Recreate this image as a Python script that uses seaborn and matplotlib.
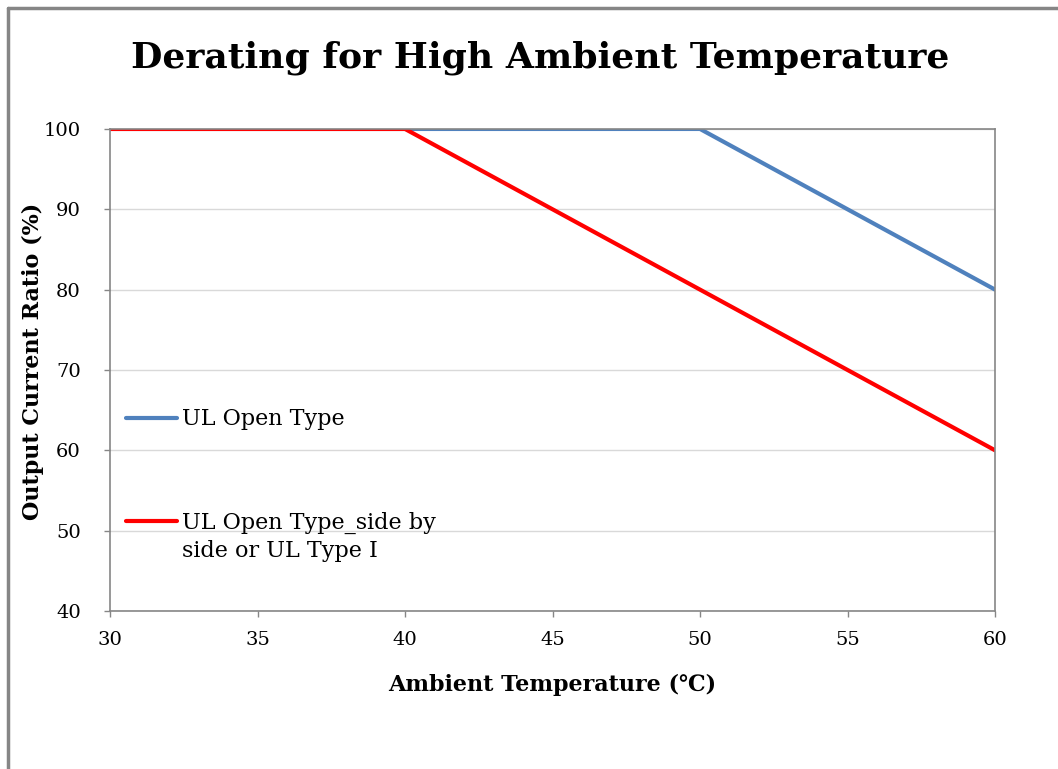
import matplotlib
matplotlib.use('Agg')
import matplotlib.pyplot as plt
from matplotlib.lines import Line2D
import seaborn as sns
import pandas as pd

# data
temps = [30, 40, 50, 60]
ul_open = [100, 100, 100, 80]
ul_side = [100, 100, 80, 60]
series_names = ['UL Open Type', 'UL Open Type_side by side or UL Type I']
legend_lines = [['UL Open Type'], ['UL Open Type_side by', 'side or UL Type I']]
x_ticks = [30, 35, 40, 45, 50, 55, 60]
y_ticks = [40, 50, 60, 70, 80, 90, 100]

sns.set_style('white')
plt.rcParams['font.family'] = ['DejaVu Serif', 'DejaVu Sans']
plt.rcParams['text.color'] = 'black'
plt.rcParams['axes.labelcolor'] = 'black'

df = pd.DataFrame({
    'temp': temps * 2,
    'ratio': ul_open + ul_side,
    'series': [series_names[0]] * len(temps) + [series_names[1]] * len(temps),
})

fig = plt.figure(figsize=(10.58, 7.69), dpi=100)
ax = fig.add_axes([0.104, 0.2055, 0.8365, 0.6268])

sns.lineplot(data=df, x='temp', y='ratio', hue='series', hue_order=series_names,
             palette=['#4F81BD', '#FF0000'], linewidth=3, ax=ax)

ax.set_xlim(30, 60)
ax.set_ylim(40, 100)
ax.set_xticks(x_ticks)
ax.set_yticks(y_ticks)
ax.yaxis.grid(True, color='#D9D9D9', linewidth=1)
ax.xaxis.grid(False)
for sp in ax.spines.values():
    sp.set_color('#868686')
    sp.set_linewidth(1.2)
ax.tick_params(axis='both', direction='out', length=4.5, width=1, color='#868686',
               labelsize=14, labelcolor='black', bottom=True, left=True)
ax.tick_params(axis='y', pad=16.5)
ax.tick_params(axis='x', pad=10)

ax.set_xlabel('Ambient Temperature (℃)', fontsize=16, fontweight='bold', va='center')
ax.set_ylabel('Output Current Ratio (%)', fontsize=16, fontweight='bold', va='center')
ax.xaxis.set_label_coords(0.4994, -0.1535)
ax.yaxis.set_label_coords(-0.087, 0.517)
fig.text(0.511, 0.925, 'Derating for High Ambient Temperature', ha='center', va='center',
         fontsize=26, fontweight='heavy')

# legend: handle aligned with first line of each label, as in the reference
handles, _ = ax.get_legend_handles_labels()
leg = ax.legend(handles, [l[0] for l in legend_lines], loc='upper left',
                bbox_to_anchor=(-0.005, 0.462), frameon=False, fontsize=16,
                handlelength=2.3, handletextpad=0.25, labelspacing=3.65)

fig.canvas.draw()
t2 = leg.get_texts()[1]
bb = t2.get_window_extent().transformed(fig.transFigure.inverted())
fig.text(bb.x0, bb.y0 - 0.009, legend_lines[1][1], ha='left', va='top', fontsize=16)

# outer border (top and left only, as cropped in reference)
fig.add_artist(Line2D([0.0075, 0.0075], [0.0, 0.9895], color='#868686', linewidth=2.5,
                      transform=fig.transFigure))
fig.add_artist(Line2D([0.0075, 1.0], [0.9895, 0.9895], color='#868686', linewidth=2.5,
                      transform=fig.transFigure))

fig.savefig('out.png', dpi=100)
